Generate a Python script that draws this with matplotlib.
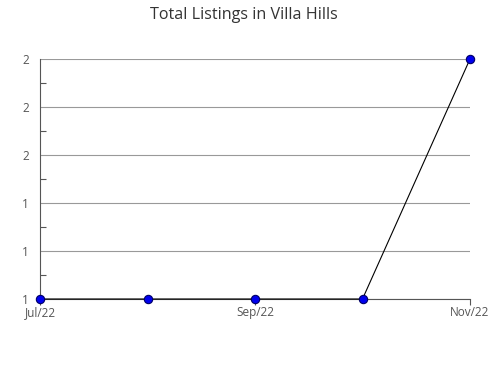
import matplotlib.pyplot as plt
from matplotlib.ticker import FixedLocator, FuncFormatter

# data
months = ["Jul/22", "Aug/22", "Sep/22", "Oct/22", "Nov/22"]
listings = [1, 1, 1, 1, 2]
tick_labels = ["Jul/22", "Sep/22", "Nov/22"]

plt.rcParams['font.family'] = ['Open Sans', 'DejaVu Sans']

fig = plt.figure(figsize=(4.9, 3.8), dpi=100)
ax = fig.add_axes([40 / 490, 81 / 380, 430 / 490, 240 / 380])

x = list(range(len(months)))
ax.plot(x, listings, color='black', linewidth=0.8, zorder=3,
        marker='o', markersize=6, markerfacecolor='#0000ee',
        markeredgecolor='#000066', markeredgewidth=0.8, clip_on=False)

ax.set_xlim(0, len(months) - 1)
ax.set_ylim(1, 2)

# y axis ticks: 1.0 .. 2.0, labels rounded
ax.yaxis.set_major_locator(FixedLocator([1.0, 1.2, 1.4, 1.6, 1.8, 2.0]))
ax.yaxis.set_minor_locator(FixedLocator([1.1, 1.3, 1.5, 1.7, 1.9]))
ax.yaxis.set_major_formatter(FuncFormatter(lambda v, p: "%d" % round(v + 1e-9)))
ax.tick_params(axis='y', which='major', length=0, pad=8, labelsize=8.5,
               labelcolor='#555555')
ax.tick_params(axis='y', which='minor', direction='in', length=4,
               color='#555555', width=0.8)

tick_pos = [months.index(t) for t in tick_labels]
ax.set_xticks(tick_pos)
ax.set_xticklabels(tick_labels)
ax.tick_params(axis='x', direction='out', length=4, pad=1, labelsize=8.5,
               labelcolor='#555555', color='#555555', width=0.8)

ax.grid(axis='y', which='major', color='#999999', linewidth=0.8)
ax.set_axisbelow(True)

for s in ['top', 'right']:
    ax.spines[s].set_visible(False)
for s in ['left', 'bottom']:
    ax.spines[s].set_color('#555555')
    ax.spines[s].set_linewidth(0.8)

fig.text(244 / 490, 1 - 15 / 380, "Total Listings in Villa Hills",
         ha='center', va='center', fontsize=11.6, color='#333333')

fig.savefig("out.png", dpi=100)
